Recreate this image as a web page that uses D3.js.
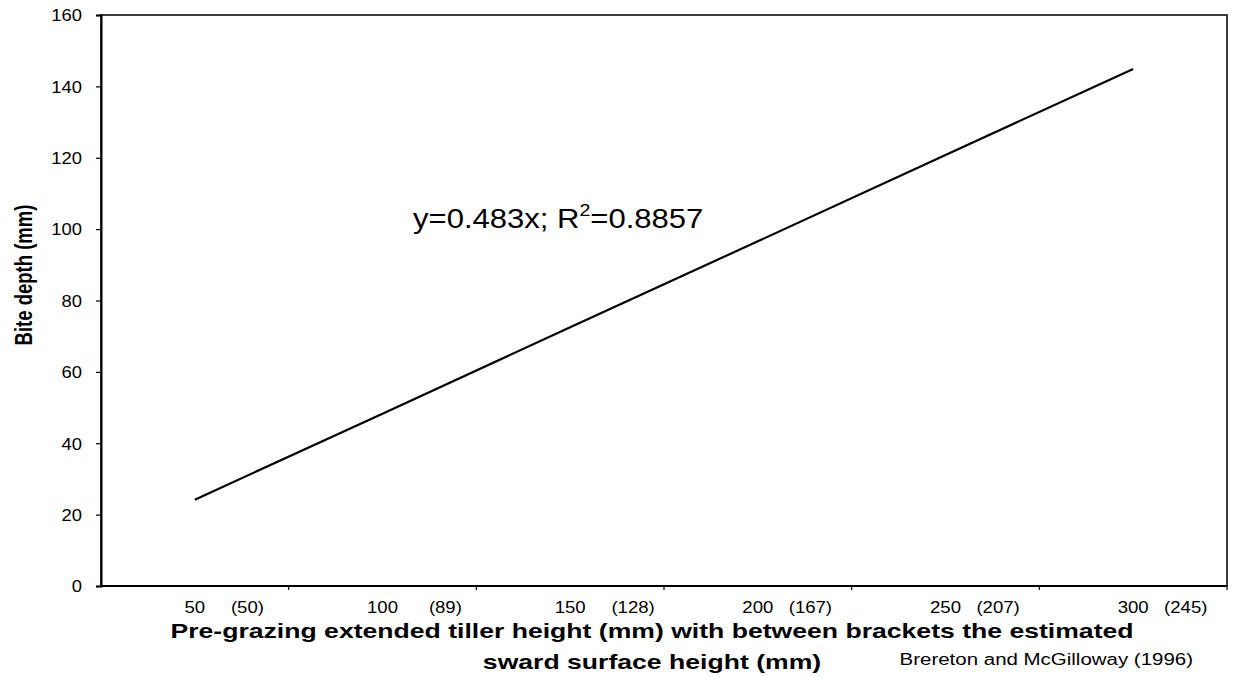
<!DOCTYPE html>
<html><head><meta charset="utf-8">
<script src="https://cdn.jsdelivr.net/npm/d3@7"></script>
<style>
body{margin:0;background:#fff}
svg{display:block}
text{font-family:"Liberation Sans",Arial,sans-serif;fill:#000}
</style>
</head><body>
<svg id="c" width="1235" height="677"></svg>
<script>
// ---- data ----
const categories = ["50","100","150","200","250","300"];
const tickLabels = ["50     (50)","100      (89)","150     (128)","200   (167)","250   (207)","300   (245)"];
const biteDepth = [24.2, 48.3, 72.5, 96.6, 120.8, 144.9];
const yTicks = [0,20,40,60,80,100,120,140,160];
const yTitle = "Bite depth (mm)";
const xTitle = ["Pre-grazing extended tiller height (mm) with between brackets the estimated","sward surface height (mm)"];
const equation = ["y=0.483x; R","2","=0.8857"];
const source = "Brereton and McGilloway (1996)";

// ---- layout ----
const L = 101, R = 1227, T = 15, B = 586;
const svg = d3.select("#c");
const x = d3.scaleBand().domain(categories).range([L, R]).padding(0);
const y = d3.scaleLinear().domain([0, 160]).range([B, T]);

// frame
svg.append("rect").attr("x", L).attr("y", T).attr("width", R - L).attr("height", B - T)
  .attr("fill", "none").attr("stroke", "#000").attr("stroke-width", 1.5);

// y axis
const yAx = svg.append("g").attr("transform", `translate(${L},0)`)
  .call(d3.axisLeft(y).tickValues(yTicks).tickSize(5).tickPadding(0));
yAx.select(".domain").attr("stroke-width", 2);
yAx.selectAll(".tick line").attr("stroke-width", 1.2);
yAx.selectAll(".tick text")
  .attr("x", 0).attr("dy", "0.36em")
  .attr("transform", "translate(-19,0) scale(1.15,1)")
  .style("font-size", "16px").style("font-family", '"Liberation Sans",Arial,sans-serif');

// x axis: boundary ticks
const xAx = svg.append("g").attr("transform", `translate(0,${B})`);
xAx.append("line").attr("x1", L).attr("x2", R).attr("stroke", "#000").attr("stroke-width", 2);
xAx.selectAll("line.t").data(categories.slice(1).concat(["end"])).join("line").attr("class", "t")
  .attr("x1", d => d === "end" ? R : x(d)).attr("x2", d => d === "end" ? R : x(d))
  .attr("y1", 0).attr("y2", 4).attr("stroke", "#000").attr("stroke-width", 1.2);

// x tick labels
categories.forEach((c, i) => {
  const g = svg.append("g").attr("transform", `translate(${x(c) + x.bandwidth() / 2},613) scale(1.16,1)`);
  const t = g.append("text").style("font-size", "16px").style("white-space", "pre").attr("text-anchor", "start");
  const num = tickLabels[i].split(" ")[0];
  const rest = tickLabels[i].slice(num.length);
  const t1 = t.append("tspan").text(num);
  t.append("tspan").text(rest);
  const w = t1.node().getComputedTextLength();
  t.attr("x", -w / 2);
  t1.attr("x", -w / 2);
});

// line
svg.append("path").datum(biteDepth)
  .attr("fill", "none").attr("stroke", "#000").attr("stroke-width", 2.2)
  .attr("d", d3.line().x((d, i) => x(categories[i]) + x.bandwidth() / 2).y(d => y(d)));

// y title
svg.append("g").attr("transform", "translate(32,275) scale(1.25,1) rotate(-90)")
  .append("text").attr("text-anchor", "middle").style("font-size", "18.5px").style("font-weight", "bold").text(yTitle);

// x title
const xt = svg.append("g").attr("transform", "translate(652,638) scale(1.33,1)");
xt.append("text").attr("text-anchor", "middle").style("font-size", "20px").style("font-weight", "bold").text(xTitle[0]);
xt.append("text").attr("text-anchor", "middle").attr("y", 31).style("font-size", "20px").style("font-weight", "bold").text(xTitle[1]);

// equation
const eq = svg.append("g").attr("transform", "translate(413,228) scale(1.15,1)")
  .append("text").style("font-size", "27px");
eq.append("tspan").text(equation[0]);
eq.append("tspan").attr("dy", -12).style("font-size", "17px").text(equation[1]);
eq.append("tspan").attr("dy", 12).text(equation[2]);

// source
svg.append("g").attr("transform", "translate(1193,665) scale(1.28,1)")
  .append("text").attr("text-anchor", "end").style("font-size", "16px").text(source);
</script>
</body></html>
